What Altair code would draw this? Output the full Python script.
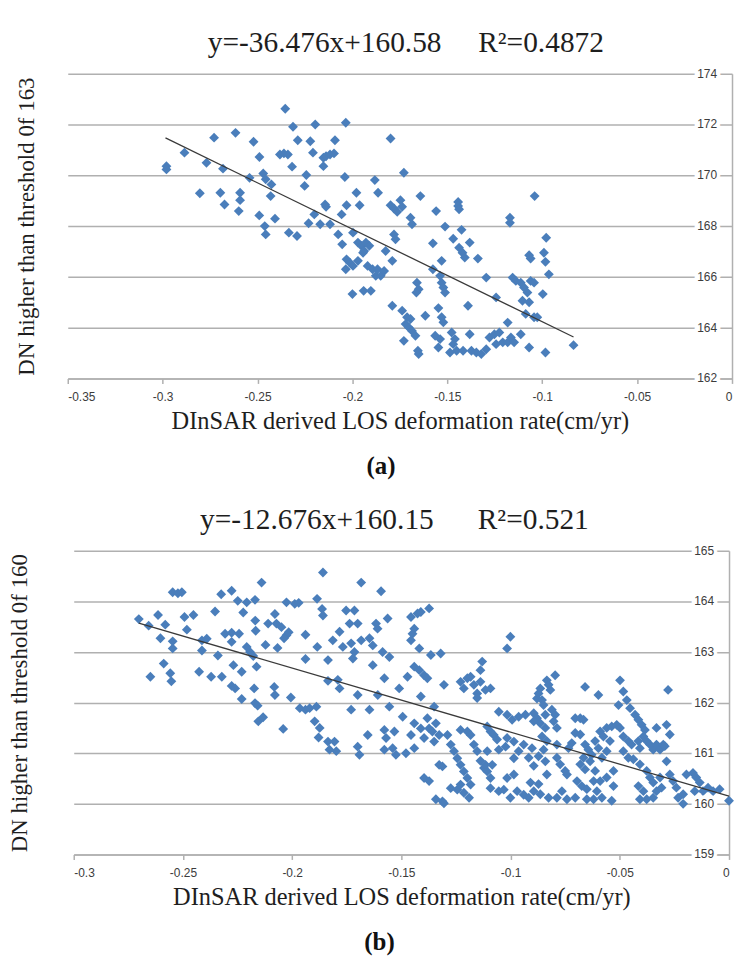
import altair as alt
import pandas as pd

# ---------------- data ----------------
NB = "\u00a0"
eq_a = "y=-36.476x+160.58" + NB * 5 + "R\u00b2=0.4872"
eq_b = "y=-12.676x+160.15" + NB * 6 + "R\u00b2=0.521"
label_a = "(a)"
label_b = "(b)"
x_title = "DInSAR derived LOS deformation rate(cm/yr)"
y_title_a = "DN higher than threshold 0f 163"
y_title_b = "DN higher than threshold 0f 160"

a_x_ticks = [-0.35, -0.3, -0.25, -0.2, -0.15, -0.1, -0.05, 0]
a_y_ticks = [162, 164, 166, 168, 170, 172, 174]
b_x_ticks = [-0.3, -0.25, -0.2, -0.15, -0.1, -0.05, 0]
b_y_ticks = [159, 160, 161, 162, 163, 164, 165]

trend_a_x = [-0.2985, -0.0835]
trend_a_y = [171.47, 163.63]
trend_b_x = [-0.2702, 0.0]
trend_b_y = [163.57, 160.15]

a_points = [
    (-0.298, 170.36), (-0.298, 170.23), (-0.2885, 170.89), (-0.2729, 171.48), (-0.2616, 171.67),
    (-0.2769, 170.49), (-0.2682, 170.26), (-0.2804, 169.29), (-0.2696, 169.31), (-0.2674, 168.85),
    (-0.2592, 169.31), (-0.2592, 169.02), (-0.2599, 168.59), (-0.2521, 171.32), (-0.2490, 170.72),
    (-0.2542, 169.90), (-0.2470, 170.07), (-0.2457, 169.84), (-0.2427, 169.64), (-0.2431, 169.18),
    (-0.2491, 168.42), (-0.2462, 168.00), (-0.2457, 167.67), (-0.2408, 168.29), (-0.2335, 167.74),
    (-0.2292, 167.61), (-0.2354, 172.62), (-0.2313, 171.91), (-0.2196, 172.00), (-0.2035, 172.07),
    (-0.2288, 171.38), (-0.2222, 171.34), (-0.2382, 170.82), (-0.2361, 170.86), (-0.2340, 170.82),
    (-0.2318, 170.34), (-0.2208, 170.89), (-0.2092, 171.38), (-0.2153, 170.69), (-0.2139, 170.75),
    (-0.2118, 170.82), (-0.2097, 170.86), (-0.2153, 170.36), (-0.2243, 170.01), (-0.2252, 169.58),
    (-0.2040, 169.93), (-0.2144, 168.85), (-0.2139, 168.76), (-0.2201, 168.46), (-0.2231, 168.11),
    (-0.2170, 168.07), (-0.2118, 168.07), (-0.1979, 169.31), (-0.1962, 168.82), (-0.2031, 168.82),
    (-0.2057, 168.46), (-0.2075, 167.67), (-0.2054, 167.28), (-0.1997, 167.74), (-0.1971, 167.35),
    (-0.1953, 167.22), (-0.1944, 166.95), (-0.2031, 166.69), (-0.2014, 166.56), (-0.2035, 166.30),
    (-0.1997, 166.43), (-0.1971, 166.63), (-0.2000, 165.32), (-0.1941, 165.45),
    (-0.1882, 169.81), (-0.1865, 169.31), (-0.1799, 171.45), (-0.1729, 170.10), (-0.1799, 168.82),
    (-0.1781, 168.69), (-0.1764, 168.56), (-0.1747, 169.02), (-0.1738, 168.76), (-0.1694, 168.33),
    (-0.1686, 168.07), (-0.1642, 169.18), (-0.1559, 168.59), (-0.1443, 168.95), (-0.1443, 168.79),
    (-0.1438, 168.66), (-0.1512, 167.98), (-0.1469, 167.50), (-0.1576, 167.32), (-0.1425, 167.85),
    (-0.1438, 167.15), (-0.1420, 166.95), (-0.1408, 166.76), (-0.1382, 167.35), (-0.1339, 166.72),
    (-0.1170, 168.33), (-0.1170, 168.13), (-0.1040, 169.18), (-0.0979, 167.54), (-0.1069, 166.85),
    (-0.1061, 166.72), (-0.0991, 166.95), (-0.0983, 166.59), (-0.0965, 166.10), (-0.1929, 167.35),
    (-0.1911, 167.22), (-0.1938, 167.02), (-0.1920, 166.43), (-0.1894, 166.30), (-0.1868, 166.30),
    (-0.1877, 166.04), (-0.1851, 166.04), (-0.1833, 166.23), (-0.1825, 167.02), (-0.1790, 166.63),
    (-0.1781, 167.67), (-0.1773, 167.48), (-0.1903, 165.45), (-0.1790, 164.86), (-0.1738, 164.67),
    (-0.1712, 164.41), (-0.1694, 164.34), (-0.1720, 164.14), (-0.1703, 164.01), (-0.1686, 163.87),
    (-0.1668, 163.68), (-0.1729, 163.48), (-0.1655, 163.09), (-0.1651, 162.96), (-0.1616, 164.47),
    (-0.1660, 165.77), (-0.1651, 165.51), (-0.1663, 165.38), (-0.1576, 166.30), (-0.1530, 166.63),
    (-0.1538, 166.04), (-0.1530, 165.77), (-0.1521, 165.58), (-0.1512, 165.38), (-0.1547, 164.77),
    (-0.1530, 164.41), (-0.1521, 164.21), (-0.1564, 163.68), (-0.1538, 163.55), (-0.1547, 163.22),
    (-0.1477, 163.81), (-0.1460, 163.55), (-0.1469, 163.35), (-0.1486, 163.02), (-0.1451, 163.09),
    (-0.1391, 164.86), (-0.1382, 163.74), (-0.1417, 163.09), (-0.1373, 163.09), (-0.1347, 163.02),
    (-0.1321, 162.96), (-0.1295, 163.15), (-0.1278, 163.61), (-0.1252, 163.74), (-0.1226, 163.81),
    (-0.1243, 163.35), (-0.1208, 163.42), (-0.1182, 163.42), (-0.1165, 163.61), (-0.1148, 163.42),
    (-0.1113, 163.74), (-0.1182, 164.20), (-0.1069, 163.22), (-0.0983, 163.02), (-0.0835, 163.31),
    (-0.1295, 165.97), (-0.1243, 165.19), (-0.1156, 165.97), (-0.1139, 165.84), (-0.1113, 165.77),
    (-0.1096, 165.58), (-0.1078, 165.38), (-0.1061, 165.84), (-0.1043, 165.77), (-0.1104, 165.06),
    (-0.1069, 165.00), (-0.1087, 164.54), (-0.1043, 164.41), (-0.1026, 164.41), (-0.0997, 165.32),
]

b_points = [
    (-0.2702, 163.65), (-0.2657, 163.52), (-0.2614, 163.73), (-0.2581, 163.54), (-0.2603, 163.27),
    (-0.2547, 164.18), (-0.2523, 164.16), (-0.2505, 164.18), (-0.2547, 163.21), (-0.2547, 163.07),
    (-0.2493, 163.69), (-0.2452, 163.73), (-0.2482, 163.44), (-0.2588, 162.77), (-0.2558, 162.58),
    (-0.2553, 162.42), (-0.2649, 162.51), (-0.2426, 162.61), (-0.2413, 163.23), (-0.2391, 163.26),
    (-0.2413, 163.03), (-0.2353, 163.80), (-0.2371, 162.51), (-0.2322, 162.51), (-0.2340, 162.93),
    (-0.2325, 164.14), (-0.2277, 164.21), (-0.2249, 164.01), (-0.2208, 163.98), (-0.2170, 164.03),
    (-0.2140, 164.37), (-0.2224, 163.78), (-0.2307, 163.36), (-0.2277, 163.38), (-0.2243, 163.36),
    (-0.2277, 163.20), (-0.2169, 163.62), (-0.2167, 163.42), (-0.2208, 163.10), (-0.2193, 163.00),
    (-0.2178, 162.92), (-0.2269, 162.74), (-0.2231, 162.61), (-0.2163, 162.71), (-0.2277, 162.33),
    (-0.2261, 162.28), (-0.2231, 162.07), (-0.2174, 162.28), (-0.2170, 161.99), (-0.2158, 161.94),
    (-0.2155, 161.63), (-0.2133, 161.71), (-0.2122, 163.14), (-0.2110, 163.56), (-0.2079, 163.75),
    (-0.2072, 163.56), (-0.2049, 163.49), (-0.2026, 163.33), (-0.2037, 163.27), (-0.2016, 163.39),
    (-0.2067, 163.08), (-0.2082, 162.31), (-0.2079, 162.15), (-0.2041, 161.48), (-0.2026, 163.98),
    (-0.1988, 163.95), (-0.1970, 163.97), (-0.2006, 162.10), (-0.1965, 161.89), (-0.1939, 161.86),
    (-0.1920, 161.89), (-0.1889, 161.92), (-0.1939, 163.34), (-0.1939, 162.86), (-0.1897, 161.63),
    (-0.1874, 161.50), (-0.1879, 161.31), (-0.1885, 163.10), (-0.1886, 164.05), (-0.1859, 164.57),
    (-0.1863, 163.85), (-0.1859, 163.72), (-0.1684, 164.37), (-0.1593, 164.20),
    (-0.1836, 162.84), (-0.1836, 162.43), (-0.1791, 162.45), (-0.1783, 162.28), (-0.1814, 163.23),
    (-0.1783, 163.40), (-0.1768, 163.10), (-0.1753, 163.82), (-0.1715, 163.82), (-0.1737, 163.56),
    (-0.1700, 163.56), (-0.1730, 163.17), (-0.1715, 163.00), (-0.1722, 162.87), (-0.1684, 163.23),
    (-0.1646, 163.27), (-0.1631, 163.13), (-0.1616, 163.56), (-0.1609, 163.46), (-0.1563, 163.66),
    (-0.1631, 162.74), (-0.1586, 163.00), (-0.1555, 162.90), (-0.1578, 162.48), (-0.1700, 162.15),
    (-0.1730, 161.86), (-0.1646, 161.86), (-0.1608, 162.15), (-0.1510, 162.28), (-0.1472, 162.51),
    (-0.1456, 163.69), (-0.1441, 163.46), (-0.1449, 163.36), (-0.1426, 163.76), (-0.1411, 163.79),
    (-0.1373, 163.86), (-0.1456, 163.23), (-0.1418, 163.07), (-0.1441, 162.71), (-0.1418, 162.64),
    (-0.1396, 162.54), (-0.1381, 162.48), (-0.1365, 162.94), (-0.1320, 162.97), (-0.1411, 162.12),
    (-0.1305, 162.35), (-0.1350, 161.92), (-0.1555, 161.92), (-0.1654, 161.36), (-0.1578, 161.46),
    (-0.1570, 161.30), (-0.1532, 161.43), (-0.1540, 161.10), (-0.1525, 160.97), (-0.1578, 161.07),
    (-0.1700, 161.13), (-0.1692, 160.97), (-0.1494, 161.72), (-0.1456, 161.36), (-0.1479, 161.00),
    (-0.1441, 161.10), (-0.1441, 161.59), (-0.1411, 161.49), (-0.1381, 161.69), (-0.1373, 161.49),
    (-0.1358, 161.43), (-0.1342, 161.59), (-0.1396, 161.30), (-0.1350, 161.23), (-0.1327, 161.36),
    (-0.1396, 160.51), (-0.1373, 160.45), (-0.1327, 160.77), (-0.1312, 160.74), (-0.1342, 160.09),
    (-0.1312, 160.05), (-0.1305, 160.01), (-0.1289, 161.36), (-0.1274, 161.17), (-0.1259, 161.04),
    (-0.1244, 160.90), (-0.1229, 160.77), (-0.1214, 160.64), (-0.1198, 160.51), (-0.1183, 160.38),
    (-0.1274, 160.31), (-0.1244, 160.28), (-0.1229, 160.38), (-0.1214, 160.22), (-0.1190, 160.12),
    (-0.1229, 161.46), (-0.1198, 161.43), (-0.1183, 161.36), (-0.1168, 161.17), (-0.1153, 161.04),
    (-0.1138, 160.85), (-0.1122, 160.71), (-0.1107, 160.64), (-0.1229, 162.41), (-0.1214, 162.28),
    (-0.1198, 162.48), (-0.1183, 162.51), (-0.1168, 162.35), (-0.1153, 162.18), (-0.1138, 162.41),
    (-0.1130, 162.81), (-0.1138, 162.64), (-0.1115, 162.25), (-0.1092, 162.28), (-0.1153, 162.09),
    (-0.1107, 161.53), (-0.1092, 161.43), (-0.1077, 161.36), (-0.1062, 161.27), (-0.1054, 161.82),
    (-0.1016, 161.76), (-0.0993, 161.66), (-0.0963, 161.72), (-0.0932, 161.76), (-0.1001, 163.30),
    (-0.1016, 163.07), (-0.1107, 161.04), (-0.1115, 160.77), (-0.1084, 160.77), (-0.1092, 160.51),
    (-0.1092, 160.31), (-0.1054, 160.25), (-0.1031, 160.28), (-0.1016, 160.51), (-0.0985, 160.58),
    (-0.0970, 160.25), (-0.1001, 160.12), (-0.0940, 160.18), (-0.0963, 161.04), (-0.0985, 160.90),
    (-0.1023, 161.13), (-0.1054, 161.07), (-0.1016, 161.30), (-0.0985, 161.23), (-0.0940, 161.17),
    (-0.1836, 161.23), (-0.1806, 161.23), (-0.1798, 161.04), (-0.1829, 161.07),
    (-0.0879, 162.08), (-0.0872, 162.18), (-0.0864, 162.28), (-0.0856, 162.05), (-0.0849, 161.95),
    (-0.0841, 161.76), (-0.0834, 162.44), (-0.0826, 162.35), (-0.0818, 162.25), (-0.0796, 162.54),
    (-0.0894, 161.79), (-0.0879, 161.69), (-0.0864, 161.59), (-0.0841, 161.50), (-0.0894, 161.63),
    (-0.0811, 161.86), (-0.0796, 161.76), (-0.0803, 161.63), (-0.0788, 161.50), (-0.0856, 161.33),
    (-0.0834, 161.24), (-0.0849, 161.07), (-0.0872, 160.94), (-0.0841, 160.84), (-0.0902, 161.10),
    (-0.0917, 160.91), (-0.0894, 160.75), (-0.0909, 160.42), (-0.0894, 160.25), (-0.0872, 160.39),
    (-0.0864, 160.19), (-0.0917, 160.12), (-0.0834, 160.58), (-0.0826, 160.12), (-0.0788, 160.12),
    (-0.0765, 160.25), (-0.0742, 160.58), (-0.0742, 160.09), (-0.0788, 160.91), (-0.0773, 160.78),
    (-0.0750, 160.65), (-0.0788, 161.17), (-0.0735, 161.10), (-0.0720, 161.20), (-0.0704, 161.69),
    (-0.0681, 161.69), (-0.0666, 161.66), (-0.0704, 161.40), (-0.0681, 161.37), (-0.0659, 162.31),
    (-0.0598, 162.15), (-0.0659, 161.17), (-0.0644, 161.07), (-0.0629, 160.97), (-0.0666, 160.91),
    (-0.0681, 160.78), (-0.0659, 160.68), (-0.0636, 160.84), (-0.0613, 160.65), (-0.0696, 160.45),
    (-0.0674, 160.35), (-0.0651, 160.29), (-0.0620, 160.45), (-0.0605, 160.25), (-0.0590, 160.45),
    (-0.0704, 160.12), (-0.0651, 160.09), (-0.0620, 160.09), (-0.0582, 160.12), (-0.0590, 161.43),
    (-0.0575, 161.33), (-0.0560, 161.50), (-0.0613, 161.24), (-0.0598, 161.10), (-0.0582, 160.91),
    (-0.0560, 161.04), (-0.0545, 161.24), (-0.0529, 160.65), (-0.0560, 160.52), (-0.0529, 160.35),
    (-0.0537, 160.06), (-0.0499, 162.44), (-0.0484, 162.22), (-0.0468, 162.05), (-0.0506, 161.95),
    (-0.0537, 161.53), (-0.0514, 161.56), (-0.0499, 161.50), (-0.0484, 161.33), (-0.0461, 161.24),
    (-0.0446, 161.17), (-0.0484, 161.04), (-0.0461, 160.91), (-0.0438, 160.88), (-0.0453, 161.89),
    (-0.0430, 161.76), (-0.0415, 161.66), (-0.0400, 161.56), (-0.0385, 161.46), (-0.0392, 161.33),
    (-0.0415, 161.24), (-0.0408, 161.10), (-0.0377, 161.24), (-0.0362, 161.17), (-0.0347, 161.07),
    (-0.0332, 161.17), (-0.0316, 161.07), (-0.0301, 161.17), (-0.0408, 160.78), (-0.0377, 160.65),
    (-0.0362, 160.52), (-0.0415, 160.35), (-0.0392, 160.25), (-0.0408, 160.09), (-0.0377, 160.09),
    (-0.0347, 160.12), (-0.0332, 160.25), (-0.0309, 160.32), (-0.0332, 161.50), (-0.0286, 161.56),
    (-0.0271, 161.37), (-0.0279, 162.25), (-0.0294, 161.14), (-0.0286, 160.84), (-0.0271, 160.58),
    (-0.0256, 160.45), (-0.0241, 160.32), (-0.0233, 160.12), (-0.0210, 160.19), (-0.0195, 160.58),
    (-0.0165, 160.61), (-0.0150, 160.52), (-0.0134, 160.42), (-0.0157, 160.25), (-0.0210, 160.00),
    (-0.0119, 160.25), (-0.0096, 160.32), (-0.0073, 160.25), (-0.0043, 160.29), (0.0, 160.06),
    (-0.0316, 160.52), (-0.0347, 160.42),
]

# ---------------- styling ----------------
BLUE = "#4A7EBB"
GRID = "#B0B0B0"
TXT = "#1E1E1E"
LAB = "#3C3C3C"
SERIF = "Liberation Serif, Times New Roman, serif"
SANS = "Liberation Sans, Arial, sans-serif"
LABEL_EXPR = "datum.value == 0 ? '0' : '-' + format(abs(datum.value), '~g')"


def panel(points, tx, ty, xdom, xticks, ydom, yticks, ytitle, eq, label,
          width, height, x_range, ytitle_pad, eq_dx, label_dx):
    df = pd.DataFrame(points, columns=["x", "y"])
    tdf = pd.DataFrame({"x": tx, "y": ty})
    ldf = pd.DataFrame({"t": [label]})
    # tick labels sit just inside the right-hand (x = 0) axis
    ytdf = pd.DataFrame({"v": yticks, "s": [str(v) for v in yticks],
                         "x0": [xdom[1]] * len(yticks)})

    xs = alt.Scale(domain=xdom, nice=False, zero=False, range=x_range)
    ys = alt.Scale(domain=ydom, nice=False, zero=False)

    x_axis = alt.Axis(values=xticks, title=x_title, grid=False,
                      domainColor=GRID, domainWidth=1.5, tickColor=GRID,
                      tickWidth=1.5, tickSize=5, labelFont=SANS,
                      labelFontSize=12, labelColor=LAB, labelPadding=8,
                      labelExpr=LABEL_EXPR, titleFont=SERIF, titleFontSize=24.5,
                      titleFontWeight="normal", titleColor=TXT, titlePadding=7)
    y_left = alt.Axis(values=yticks, title=ytitle, labels=False, ticks=False,
                      domain=False, grid=True, gridColor=GRID, gridWidth=1.5,
                      titleFont=SERIF, titleFontSize=23, titleFontWeight="normal",
                      titleColor=TXT, titlePadding=ytitle_pad, titleAngle=270)
    y_right = alt.Axis(orient="right", values=yticks, title=None, grid=False,
                       ticks=False, labels=False, domain=True, domainColor=GRID,
                       domainWidth=1.5)

    pts = alt.Chart(df).mark_point(shape="diamond", filled=True, size=98,
                                   color=BLUE, opacity=1, strokeWidth=0).encode(
        x=alt.X("x:Q", scale=xs, axis=x_axis),
        y=alt.Y("y:Q", scale=ys, axis=y_left),
    )
    # white gaps in the gridlines behind the right-hand tick labels
    halo = alt.Chart(ytdf).mark_text(font=SANS, fontSize=12, align="right",
                                     baseline="middle", fill="white",
                                     stroke="white", strokeWidth=7, dx=-15).encode(
        x=alt.X("x0:Q", scale=xs, axis=x_axis),
        y=alt.Y("v:Q", scale=ys, axis=None),
        text="s:N",
    )
    trend = alt.Chart(tdf).mark_line(color="#3A3A3A", strokeWidth=1.3).encode(
        x=alt.X("x:Q", scale=xs, axis=x_axis),
        y=alt.Y("y:Q", scale=ys, axis=y_right),
    )
    ylab = alt.Chart(ytdf).mark_text(font=SANS, fontSize=12, align="right",
                                     baseline="middle", color=LAB, dx=-15).encode(
        x=alt.X("x0:Q", scale=xs, axis=x_axis),
        y=alt.Y("v:Q", scale=ys, axis=None),
        text="s:N",
    )
    lab = alt.Chart(ldf).mark_text(font=SERIF, fontSize=25, fontWeight="bold",
                                   color="#111111", baseline="middle").encode(
        x=alt.value(width / 2 + label_dx),
        y=alt.value(height + 88),
        text="t:N",
    )
    return alt.layer(pts, halo, trend, ylab, lab).resolve_axis(y="independent").properties(
        width=width, height=height,
        title=alt.TitleParams(eq, font=SERIF, fontSize=29.5, fontWeight="normal",
                              color=TXT, offset=9, dx=eq_dx),
    )


chart_a = panel(a_points, trend_a_x, trend_a_y, [-0.35, 0], a_x_ticks, [162, 174],
                a_y_ticks, y_title_a, eq_a, label_a, 667, 306, [0, 667], 29, 6, -19)
chart_b = panel(b_points, trend_b_x, trend_b_y, [-0.3, 0], b_x_ticks, [159, 165],
                b_y_ticks, y_title_b, eq_b, label_b, 664, 305, [6, 664], 36, -4, -19)

chart = alt.vconcat(chart_a, chart_b, spacing=26).properties(
    padding={"left": 0, "top": 18, "right": 0, "bottom": 0},
    background="white",
).configure_view(stroke=None)

chart.save("out.html", embed_options={"renderer": "svg", "actions": False})
